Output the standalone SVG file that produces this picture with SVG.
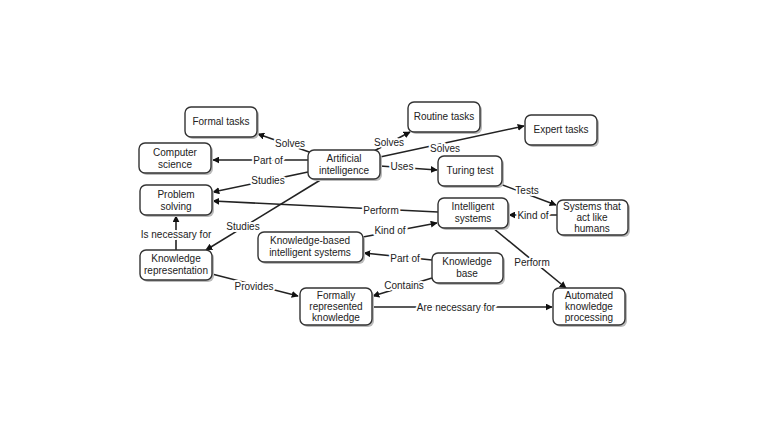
<svg xmlns="http://www.w3.org/2000/svg" width="768" height="433" viewBox="0 0 768 433">
<style>
.n rect.b{fill:#fff;stroke:#333;stroke-width:1.4}
.n rect.s{fill:#bbb}
text{font-family:"Liberation Sans",Arial,sans-serif;font-size:10px;fill:#222;text-anchor:middle}
.c line,.c polyline{stroke:#222;stroke-width:1.6;fill:none}
.c text{stroke:#fff;stroke-width:4px;paint-order:stroke;stroke-linejoin:round}
</style>
<defs>
<marker id="a" viewBox="0 0 10 10" refX="9" refY="5" markerWidth="7" markerHeight="7" markerUnits="userSpaceOnUse" orient="auto"><path d="M0,0L10,5L0,10z" fill="#111"/></marker>
</defs>
<rect width="768" height="433" fill="#fff"/>
<g class="c">
<line x1="312" y1="153" x2="258" y2="134" marker-end="url(#a)"/>
<line x1="308" y1="160" x2="213" y2="160" marker-end="url(#a)"/>
<line x1="308" y1="172" x2="213" y2="192" marker-end="url(#a)"/>
<line x1="322" y1="179" x2="206" y2="250" marker-end="url(#a)"/>
<line x1="374" y1="151" x2="410" y2="132" marker-end="url(#a)"/>
<line x1="380" y1="157" x2="524" y2="126" marker-end="url(#a)"/>
<line x1="380" y1="166" x2="437" y2="170" marker-end="url(#a)"/>
<line x1="500" y1="184" x2="556" y2="205" marker-end="url(#a)"/>
<line x1="557" y1="215" x2="509" y2="215" marker-end="url(#a)"/>
<line x1="438" y1="212" x2="213" y2="201" marker-end="url(#a)"/>
<line x1="363" y1="237" x2="437" y2="223" marker-end="url(#a)"/>
<line x1="493" y1="228" x2="566" y2="288" marker-end="url(#a)"/>
<line x1="432" y1="260" x2="364" y2="253" marker-end="url(#a)"/>
<line x1="432" y1="278" x2="373" y2="296" marker-end="url(#a)"/>
<line x1="176" y1="250" x2="176" y2="216" marker-end="url(#a)"/>
<line x1="212" y1="274" x2="298" y2="296" marker-end="url(#a)"/>
<line x1="372" y1="307" x2="552" y2="307" marker-end="url(#a)"/>
<text x="290" y="147">Solves</text>
<text x="268" y="164">Part of</text>
<text x="268" y="184">Studies</text>
<text x="243" y="230">Studies</text>
<text x="389" y="146">Solves</text>
<text x="445" y="152">Solves</text>
<text x="402" y="170">Uses</text>
<text x="527" y="194">Tests</text>
<text x="533" y="219">Kind of</text>
<text x="381" y="214">Perform</text>
<text x="390" y="234">Kind of</text>
<text x="532" y="266">Perform</text>
<text x="405" y="262">Part of</text>
<text x="404" y="289">Contains</text>
<text x="176" y="238">Is necessary for</text>
<text x="254" y="290">Provides</text>
<text x="456" y="311">Are necessary for</text>
</g>
<g id="formal" class="n"><rect class="s" x="187" y="109" width="72" height="30" rx="6"/><rect class="b" x="185" y="107" width="72" height="30" rx="6"/><text x="221" y="125">Formal tasks</text></g>
<g id="cs" class="n"><rect class="s" x="141" y="145" width="72" height="30" rx="6"/><rect class="b" x="139" y="143" width="72" height="30" rx="6"/><text x="175" y="156">Computer</text><text x="175" y="168">science</text></g>
<g id="ps" class="n"><rect class="s" x="142" y="187" width="72" height="30" rx="6"/><rect class="b" x="140" y="185" width="72" height="30" rx="6"/><text x="176" y="198">Problem</text><text x="176" y="210">solving</text></g>
<g id="ai" class="n"><rect class="s" x="310" y="152" width="72" height="29" rx="6"/><rect class="b" x="308" y="150" width="72" height="29" rx="6"/><text x="344" y="162">Artificial</text><text x="344" y="174">intelligence</text></g>
<g id="routine" class="n"><rect class="s" x="410" y="104" width="72" height="30" rx="6"/><rect class="b" x="408" y="102" width="72" height="30" rx="6"/><text x="444" y="120">Routine tasks</text></g>
<g id="expert" class="n"><rect class="s" x="527" y="117" width="72" height="30" rx="6"/><rect class="b" x="525" y="115" width="72" height="30" rx="6"/><text x="561" y="133">Expert tasks</text></g>
<g id="turing" class="n"><rect class="s" x="440" y="158" width="64" height="30" rx="6"/><rect class="b" x="438" y="156" width="64" height="30" rx="6"/><text x="470" y="174">Turing test</text></g>
<g id="intel" class="n"><rect class="s" x="440" y="200" width="70" height="30" rx="6"/><rect class="b" x="438" y="198" width="70" height="30" rx="6"/><text x="473" y="210">Intelligent</text><text x="473" y="222">systems</text></g>
<g id="humans" class="n"><rect class="s" x="559" y="202" width="71" height="35" rx="6"/><rect class="b" x="557" y="200" width="71" height="35" rx="6"/><text x="592" y="210">Systems that</text><text x="592" y="221">act like</text><text x="592" y="232">humans</text></g>
<g id="kbis" class="n"><rect class="s" x="260" y="234" width="105" height="30" rx="6"/><rect class="b" x="258" y="232" width="105" height="30" rx="6"/><text x="310" y="244">Knowledge-based</text><text x="310" y="256">intelligent systems</text></g>
<g id="kr" class="n"><rect class="s" x="142" y="252" width="72" height="30" rx="6"/><rect class="b" x="140" y="250" width="72" height="30" rx="6"/><text x="176" y="262">Knowledge</text><text x="176" y="274">representation</text></g>
<g id="kb" class="n"><rect class="s" x="434" y="255" width="71" height="30" rx="6"/><rect class="b" x="432" y="253" width="71" height="30" rx="6"/><text x="467" y="265">Knowledge</text><text x="467" y="277">base</text></g>
<g id="frk" class="n"><rect class="s" x="302" y="290" width="72" height="37" rx="6"/><rect class="b" x="300" y="288" width="72" height="37" rx="6"/><text x="336" y="299">Formally</text><text x="336" y="310">represented</text><text x="336" y="321">knowledge</text></g>
<g id="akp" class="n"><rect class="s" x="555" y="290" width="72" height="37" rx="6"/><rect class="b" x="553" y="288" width="72" height="37" rx="6"/><text x="589" y="299">Automated</text><text x="589" y="310">knowledge</text><text x="589" y="321">processing</text></g>
</svg>
